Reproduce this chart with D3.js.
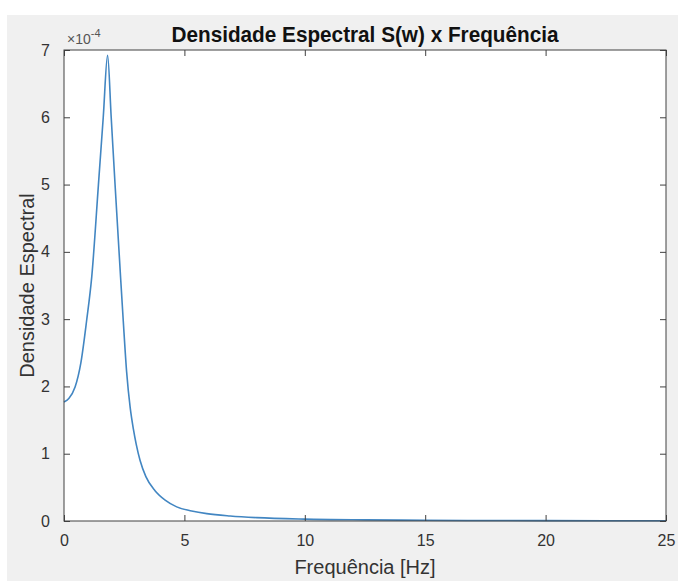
<!DOCTYPE html>
<html>
<head>
<meta charset="utf-8">
<script src="https://cdn.jsdelivr.net/npm/d3@7"></script>
<style>
  html, body { margin: 0; padding: 0; background: #fff; }
  svg { display: block; font-family: "Liberation Sans", Arial, Helvetica, sans-serif; }
</style>
</head>
<body>
<div id="chart"></div>
<script>
// spectral density (frequency in Hz, S(w) in absolute units)
const freq = [0, 0.2, 0.46, 0.7, 0.94, 1.15, 1.43, 1.63, 1.81, 1.96, 2.12, 2.35, 2.46, 2.6, 2.75,
  2.88, 3.0, 3.16, 3.4, 3.78, 4.2, 4.68, 5.3, 5.93, 6.9, 8, 10, 12.5, 15, 20, 25];
const density = [1.77e-4, 1.82e-4, 1.99e-4, 2.35e-4, 2.98e-4, 3.62e-4, 5.0e-4, 6.0e-4, 6.92e-4,
  6.0e-4, 5.0e-4, 3.62e-4, 2.98e-4, 2.22e-4, 1.68e-4, 1.37e-4, 1.14e-4, 0.9e-4, 0.66e-4,
  0.45e-4, 0.31e-4, 0.21e-4, 0.15e-4, 0.11e-4, 0.075e-4, 0.05e-4, 0.028e-4, 0.017e-4,
  0.011e-4, 0.006e-4, 0.004e-4];
const xTicks = [0, 5, 10, 15, 20, 25];
const yTicks = [0, 1e-4, 2e-4, 3e-4, 4e-4, 5e-4, 6e-4, 7e-4];

const width = 678, height = 581;
const margin = {top: 50, right: 12, bottom: 60, left: 64};
const innerW = width - margin.left - margin.right;
const innerH = height - margin.top - margin.bottom;
const axisColor = '#404040';
const textColor = '#333';

const svg = d3.select('#chart').append('svg')
  .attr('width', width)
  .attr('height', height);

// figure background (MATLAB grey)
svg.append('rect')
  .attr('x', 7).attr('y', 15)
  .attr('width', width - 7).attr('height', height - 15)
  .attr('fill', '#f0f0f0');

const g = svg.append('g')
  .attr('transform', `translate(${margin.left},${margin.top})`);

const x = d3.scaleLinear().domain([0, 25]).range([0, innerW]);
const y = d3.scaleLinear().domain([0, 7e-4]).range([innerH, 0]);

g.append('rect')
  .attr('width', innerW).attr('height', innerH)
  .attr('fill', '#fff');

// curve
const line = d3.line()
  .x((d, i) => x(freq[i]))
  .y(d => y(d))
  .curve(d3.curveMonotoneX);

g.append('path')
  .datum(density)
  .attr('d', line)
  .attr('fill', 'none')
  .attr('stroke', '#4286c2')
  .attr('stroke-width', 1.6);

// axes: ticks inside, on all four sides
const tickLen = 6;
const styleAxis = sel => {
  sel.select('.domain').remove();
  sel.selectAll('.tick line').attr('stroke', axisColor);
  sel.selectAll('.tick text').attr('fill', textColor).style('font-size', '16px');
};

g.append('g')
  .attr('transform', `translate(0,${innerH})`)
  .call(d3.axisBottom(x).tickValues(xTicks).tickSize(-tickLen).tickPadding(14).tickFormat(d3.format('d')))
  .call(styleAxis);

g.append('g')
  .call(d3.axisTop(x).tickValues(xTicks).tickSize(-tickLen).tickFormat(''))
  .call(styleAxis);

g.append('g')
  .call(d3.axisLeft(y).tickValues(yTicks).tickSize(-tickLen).tickPadding(14).tickFormat(d => d3.format('d')(Math.round(d / 1e-4))))
  .call(styleAxis);

g.append('g')
  .attr('transform', `translate(${innerW},0)`)
  .call(d3.axisRight(y).tickValues(yTicks).tickSize(-tickLen).tickFormat(''))
  .call(styleAxis);

// box
g.append('rect')
  .attr('width', innerW).attr('height', innerH)
  .attr('fill', 'none')
  .attr('stroke', axisColor)
  .attr('stroke-width', 1);

// exponent marker
const expo = g.append('text')
  .attr('x', 3).attr('y', -6)
  .attr('fill', '#555')
  .style('font-size', '14px');
expo.append('tspan').text('\u00d710');
expo.append('tspan').attr('dy', -7).style('font-size', '11px').text('-4');

// title
svg.append('text')
  .attr('x', margin.left + innerW / 2)
  .attr('y', 42)
  .attr('text-anchor', 'middle')
  .attr('fill', '#111')
  .attr('textLength', 387)
  .attr('lengthAdjust', 'spacingAndGlyphs')
  .style('font-size', '22px')
  .style('font-weight', 'bold')
  .text('Densidade Espectral S(w) x Frequência');

// axis labels
svg.append('text')
  .attr('x', margin.left + innerW / 2)
  .attr('y', 574)
  .attr('text-anchor', 'middle')
  .attr('fill', textColor)
  .style('font-size', '20px')
  .text('Frequência [Hz]');

svg.append('text')
  .attr('transform', `translate(34,${margin.top + innerH / 2}) rotate(-90)`)
  .attr('text-anchor', 'middle')
  .attr('fill', textColor)
  .style('font-size', '20px')
  .text('Densidade Espectral');
</script>
</body>
</html>
